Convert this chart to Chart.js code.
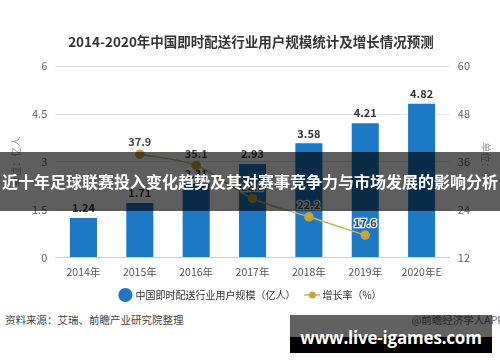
<!DOCTYPE html>
<html>
<head>
<meta charset="utf-8">
<script src="https://cdn.jsdelivr.net/npm/chart.js@4.4.1/dist/chart.umd.min.js"></script>
<style>
  html, body { margin: 0; padding: 0; background: #fff; }
  #wrap { position: relative; width: 500px; height: 362px; overflow: hidden; font-family: "Noto Sans CJK SC", sans-serif; }
  #box { position: absolute; left: 0; top: 0; width: 500px; height: 310px; }
  .src { position: absolute; left: 5px; top: 312px; font-size: 10.5px; color: #444; }
  .app { position: absolute; right: -4px; top: 312px; font-size: 10.5px; color: #666; }
  .band { position: absolute; left: 0; top: 152px; width: 500px; height: 59px; background: rgba(0,0,0,0.63);
          color: #fff; font-weight: bold; font-size: 16px; line-height: 59px; text-align: center; white-space: nowrap; }
  .site { position: absolute; left: 290px; top: 315px; width: 202px; height: 38px; white-space: nowrap;
          background: linear-gradient(to bottom, rgba(0,0,0,0.62) 0, rgba(0,0,0,0.62) 22px, #000 22px, #000 100%);
          color: #fff; font-family: "Open Sans", sans-serif; font-weight: bold; font-size: 17px; letter-spacing: -0.2px;
          line-height: 46px; text-align: center; }
</style>
</head>
<body>
<div id="wrap">
  <div id="box"><canvas id="chart"></canvas></div>
  <div class="src">资料来源：艾瑞、前瞻产业研究院整理</div>
  <div class="app">@前瞻经济学人APP</div>
  <div class="band">近十年足球联赛投入变化趋势及其对赛事竞争力与市场发展的影响分析</div>
  <div class="site">www.live-igames.com</div>
</div>
<script>
// data
const years = ['2014年', '2015年', '2016年', '2017年', '2018年', '2019年', '2020年E'];
const users = [1.24, 1.71, 2.31, 2.93, 3.58, 4.21, 4.82];      // 亿人
const growth = [null, 37.9, 35.1, 26.8, 22.2, 17.6, null];      // %
const leftTicks = [0, 1.5, 3, 4.5, 6];
const rightTicks = [12, 24, 36, 48, 60];

const FONT = '"Noto Sans CJK SC", sans-serif';
const BLUE = '#1c79c6';
const GOLD = '#d2b054';

// legend marker for the line: short line with a dot
function lineMarker() {
  const c = document.createElement('canvas');
  c.width = 16; c.height = 10;
  const g = c.getContext('2d');
  g.strokeStyle = GOLD; g.lineWidth = 1.5;
  g.beginPath(); g.moveTo(0, 5); g.lineTo(16, 5); g.stroke();
  g.fillStyle = '#c9a23a';
  g.beginPath(); g.arc(8, 5, 3.5, 0, Math.PI * 2); g.fill();
  return c;
}

// value labels above bars and points
const valueLabels = {
  id: 'valueLabels',
  afterDatasetsDraw(chart) {
    const ctx = chart.ctx;
    ctx.save();
    ctx.textAlign = 'center';
    ctx.textBaseline = 'middle';
    chart.data.datasets.forEach((ds, i) => {
      const meta = chart.getDatasetMeta(i);
      meta.data.forEach((el, j) => {
        const v = ds.data[j];
        if (v == null) return;
        const txt = ds.type === 'bar' ? v.toFixed(2) : v.toFixed(1);
        ctx.font = 'bold 11px ' + FONT;
        if (ds.type === 'line') {
          ctx.lineWidth = 2.5;
          ctx.strokeStyle = 'rgba(255,255,255,0.9)';
          ctx.strokeText(txt, el.x, el.y - 12);
          ctx.fillStyle = '#444';
        } else {
          ctx.fillStyle = '#333';
        }
        ctx.fillText(txt, el.x, el.y - (ds.type === 'bar' ? 10 : 12));
      });
    });
    ctx.restore();
  }
};

new Chart(document.getElementById('chart'), {
  data: {
    labels: years,
    datasets: [
      {
        type: 'line',
        label: '增长率（%）',
        data: growth,
        yAxisID: 'y1',
        borderColor: GOLD,
        borderWidth: 1.5,
        backgroundColor: '#c9a23a',
        pointBackgroundColor: '#c9a23a',
        pointBorderColor: '#c9a23a',
        pointRadius: 4,
        tension: 0.3,
        order: 0
      },
      {
        type: 'bar',
        label: '中国即时配送行业用户规模（亿人）',
        data: users,
        yAxisID: 'y',
        backgroundColor: BLUE,
        categoryPercentage: 0.8,
        barPercentage: 0.6,
        order: 1
      }
    ]
  },
  options: {
    responsive: true,
    maintainAspectRatio: false,
    animation: false,
    layout: { padding: { left: 8, right: 6, top: 0, bottom: 0 } },
    plugins: {
      title: {
        display: true,
        text: '2014-2020年中国即时配送行业用户规模统计及增长情况预测',
        color: '#333',
        font: { family: FONT, size: 13.5, weight: 'bold' },
        padding: { top: 34, bottom: 16 }
      },
      legend: {
        position: 'bottom',
        labels: {
          usePointStyle: true,
          color: '#333',
          font: { family: FONT, size: 10 },
          padding: 12,
          generateLabels(chart) {
            return [
              { text: '中国即时配送行业用户规模（亿人）', pointStyle: 'circle', fillStyle: BLUE, strokeStyle: BLUE, lineWidth: 0, datasetIndex: 1, fontColor: '#333' },
              { text: '增长率（%）', pointStyle: lineMarker(), fillStyle: GOLD, strokeStyle: GOLD, lineWidth: 0, datasetIndex: 0, fontColor: '#333' }
            ];
          }
        }
      },
      tooltip: { enabled: false }
    },
    scales: {
      x: {
        grid: { display: false },
        border: { color: '#cfcfcf' },
        ticks: { color: '#555', font: { family: FONT, size: 10.5 }, padding: 0 }
      },
      y: {
        position: 'left',
        min: leftTicks[0],
        max: leftTicks[leftTicks.length - 1],
        afterBuildTicks(axis) { axis.ticks = leftTicks.map(v => ({ value: v })); },
        grid: { color: '#e6e6e6', drawTicks: false },
        border: { display: false },
        ticks: { color: '#666', font: { family: FONT, size: 11 }, padding: 8 },
        title: { display: true, text: '单位：亿人', color: '#999', font: { family: FONT, size: 10 }, padding: 2 }
      },
      y1: {
        position: 'right',
        min: rightTicks[0],
        max: rightTicks[rightTicks.length - 1],
        afterBuildTicks(axis) { axis.ticks = rightTicks.map(v => ({ value: v })); },
        grid: { display: false, drawTicks: false },
        border: { display: false },
        ticks: { color: '#666', font: { family: FONT, size: 11 }, padding: 8 },
        title: { display: true, text: '单位：%', color: '#999', font: { family: FONT, size: 10 }, padding: 2 }
      }
    }
  },
  plugins: [valueLabels]
});
</script>
</body>
</html>
